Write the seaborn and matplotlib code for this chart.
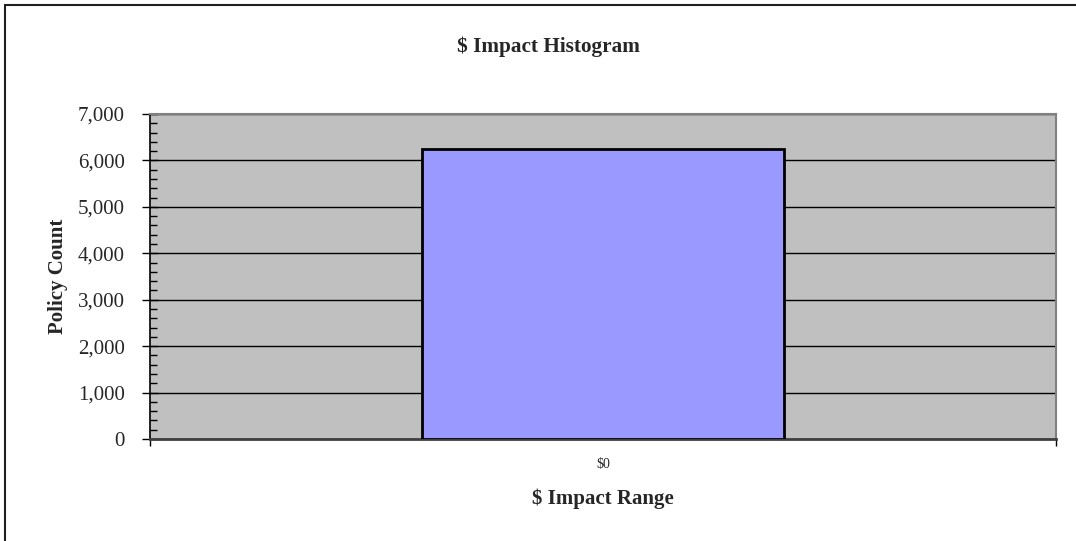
import matplotlib
matplotlib.use("Agg")
import matplotlib.pyplot as plt
import seaborn as sns
import pandas as pd
from matplotlib.ticker import FuncFormatter, MultipleLocator, FixedLocator
from matplotlib.patches import Rectangle

# Histogram data
impact_ranges = ["$0"]
policy_counts = [6250]

df = pd.DataFrame({"range": impact_ranges, "count": policy_counts})

sns.set_style("white")
plt.rcParams["font.family"] = ["Liberation Serif", "DejaVu Serif"]

fig = plt.figure(figsize=(10.76, 5.41), dpi=100)
ax = fig.add_axes([150 / 1076, 1 - 439 / 541, 906 / 1076, 325 / 541])
ax.set_facecolor("#C0C0C0")

sns.barplot(data=df, x="range", y="count", ax=ax, color="#9999FF",
            saturation=1, width=0.4, edgecolor="black", linewidth=2, zorder=3)

ax.set_xlim(-0.5, len(impact_ranges) - 0.5)
ax.set_ylim(0, 7000)

# Gridlines at major y ticks
ax.yaxis.set_major_locator(MultipleLocator(1000))
ax.yaxis.set_minor_locator(MultipleLocator(200))
ax.yaxis.set_major_formatter(FuncFormatter(lambda v, p: f"{int(v):,}"))
ax.grid(axis="y", which="major", color="black", linewidth=1, zorder=1)
ax.set_axisbelow(True)

ax.tick_params(axis="y", which="major", direction="inout", length=12, width=1,
               color="black", labelsize=15, pad=12, left=True)
ax.tick_params(axis="y", which="minor", direction="in", length=5, width=1,
               color="black", left=True)

# Category label in the middle; boundary ticks at the edges
ax.xaxis.set_minor_locator(FixedLocator([-0.5 + i for i in range(len(impact_ranges) + 1)]))
ax.tick_params(axis="x", which="major", length=0, labelsize=10, pad=14)
ax.tick_params(axis="x", which="minor", direction="out", length=5, width=1,
               color="black", bottom=True)

for side in ["top", "right"]:
    ax.spines[side].set_color("#808080")
    ax.spines[side].set_linewidth(1.5)
ax.spines["left"].set_color("black")
ax.spines["left"].set_linewidth(1.2)
ax.spines["bottom"].set_color("#404040")
ax.spines["bottom"].set_linewidth(2)

ax.set_xlabel("$ Impact Range", fontsize=15, fontweight="bold", labelpad=12)
ax.set_ylabel("Policy Count", fontsize=15, fontweight="bold", labelpad=7)

fig.text(548 / 1076, 1 - 47 / 541, "$ Impact Histogram", ha="center", va="center",
         fontsize=15.3, fontweight="bold")

# Chart-area frame
fig.patches.append(Rectangle((4.5 / 1076, -0.1), 1.2, 1 - 5 / 541 + 0.1,
                             transform=fig.transFigure, fill=False,
                             edgecolor="#202020", linewidth=1.5))

fig.savefig("out.png", dpi=100, facecolor="white")
